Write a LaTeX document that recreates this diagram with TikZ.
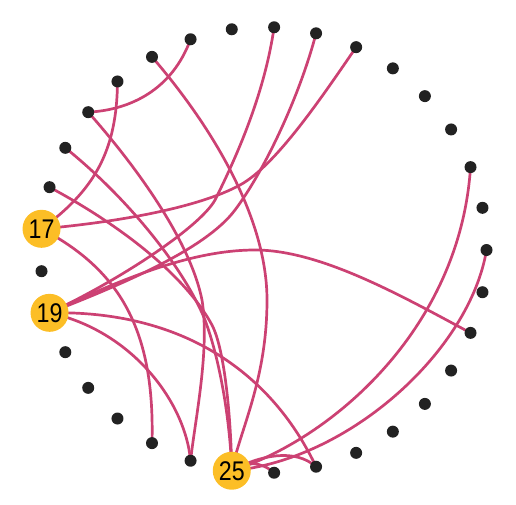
\documentclass[tikz,border=0pt]{standalone}
\usepackage{fontspec}
\setmainfont{Liberation Sans}
\definecolor{edgec}{RGB}{204,65,115}
\definecolor{dotc}{RGB}{34,34,34}
\definecolor{hlc}{RGB}{252,190,38}
\begin{document}
\begin{tikzpicture}[x=1pt,y=-1pt,
  edge/.style={draw=edgec, line width=2.7pt},
  dotn/.style={circle, fill=dotc, inner sep=0pt, minimum size=12pt},
  hln/.style={circle, fill=hlc, inner sep=0pt, minimum size=38pt, font=\fontsize{27}{27}\selectfont}]
\useasboundingbox (0,0) rectangle (516,504);
\foreach \k in {0,...,32} \coordinate (p\k) at ({263.5+223*cos(\k*360/33)},{250-223*sin(\k*360/33)});
% edges
\draw[edge] (p13) .. controls (130,110) and (172,90) .. (p10);
\draw[edge] (p12) .. controls (117,150) and (95,190) .. (p16);
\draw[edge] (p11) .. controls (215,130) and (267,220) .. (267,300) .. controls (267,380) and (240,430) .. (p24);
\draw[edge] (p13) .. controls (135,165) and (190,240) .. (202,300) .. controls (210,350) and (195,420) .. (p23);
\draw[edge] (p7) .. controls (300,95) and (265,170) .. (235,210) .. controls (205,250) and (120,285) .. (p18);
\draw[edge] (p8) .. controls (265,90) and (240,150) .. (215,200) .. controls (200,227) and (120,280) .. (p18);
\draw[edge] (p16) .. controls (120,222) and (200,207) .. (240,185) .. controls (275,166) and (320,100) .. (p6);
\draw[edge] (p18) .. controls (120,280) and (190,250) .. (255,250) .. controls (320,250) and (400,295) .. (p31);
\draw[edge] (p18) .. controls (180,310) and (270,370) .. (p26);
\draw[edge] (p18) .. controls (130,330) and (185,400) .. (p23);
\draw[edge] (p16) .. controls (120,270) and (155,330) .. (p22);
\draw[edge] (p24) .. controls (330,440) and (460,330) .. (p2);
\draw[edge] (p24) .. controls (350,460) and (470,350) .. (p0);
\draw[edge] (p24) .. controls (260,455) and (295,448) .. (p26);
\draw[edge] (p24) .. controls (245,460) and (262,462) .. (p25);
\draw[edge] (p14) .. controls (130,200) and (185,270) .. (205,320) .. controls (220,360) and (230,420) .. (p24);
\draw[edge] (p15) .. controls (120,225) and (185,275) .. (212,325) .. controls (225,350) and (231,420) .. (p24);
% nodes
\foreach \k in {0,...,15,17,19,20,...,23,25,26,...,32} \node[dotn] (n\k) at (p\k) {};
\node[hln] (n16) at (p16) {\scalebox{0.86}[1]{17}};
\node[hln] (n18) at (p18) {\scalebox{0.86}[1]{19}};
\node[hln] (n24) at (p24) {\scalebox{0.86}[1]{25}};
\end{tikzpicture}
\end{document}
